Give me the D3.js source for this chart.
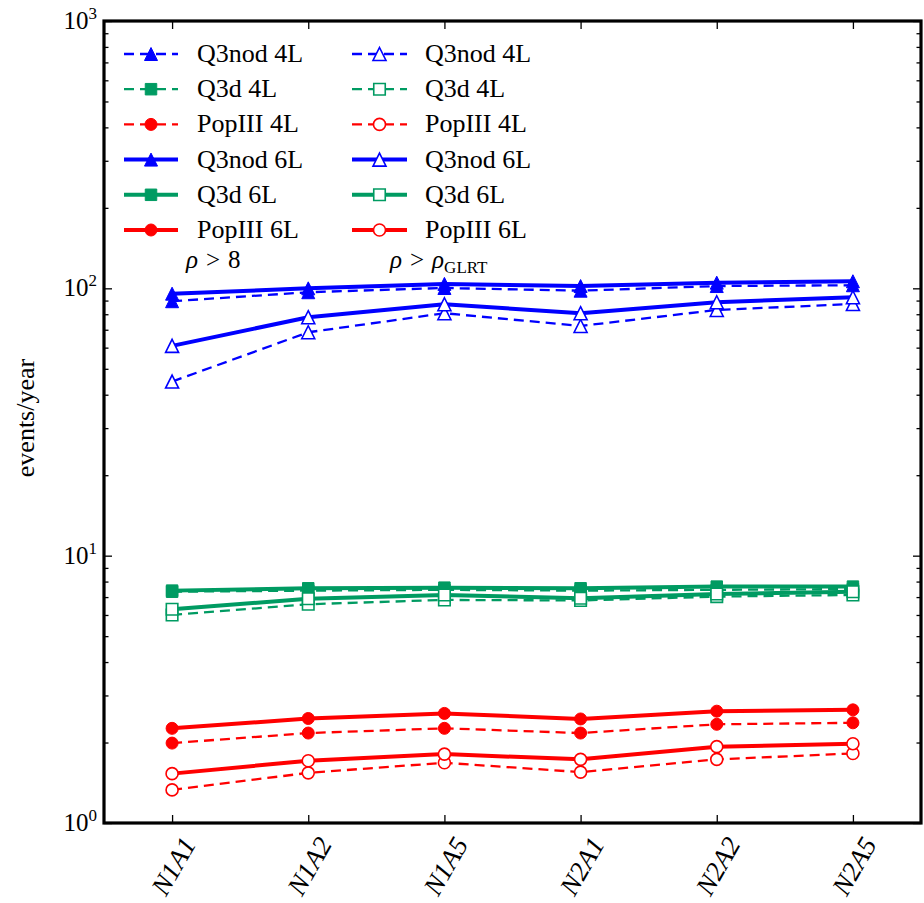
<!DOCTYPE html>
<html>
<head>
<meta charset="utf-8">
<script src="https://cdn.jsdelivr.net/npm/d3@7"></script>
<style>
  html, body { margin: 0; padding: 0; background: #fff; }
  svg text { font-family: "Liberation Serif", "Times New Roman", serif; fill: #000; }
</style>
</head>
<body>
<svg id="chart" width="924" height="903"></svg>
<script>
// Detector configurations along the x axis
const categories = ["N1A1", "N1A2", "N1A5", "N2A1", "N2A2", "N2A5"];

// Detection rates (events/year), threshold rho > 8 (filled markers)
const q3nod4L_rho8 = [89.5, 96.7, 100.3, 98.0, 102.0, 102.7];
const q3d4L_rho8   = [7.33, 7.40, 7.45, 7.40, 7.45, 7.50];
const pop4L_rho8   = [1.99, 2.17, 2.26, 2.17, 2.34, 2.37];
const q3nod6L_rho8 = [95.5, 100.0, 103.9, 102.0, 105.0, 106.3];
const q3d6L_rho8   = [7.40, 7.55, 7.59, 7.55, 7.66, 7.66];
const pop6L_rho8   = [2.26, 2.46, 2.57, 2.45, 2.62, 2.65];

// Detection rates (events/year), threshold rho > rho_GLRT (open markers)
const q3nod4L_glrt = [44.8, 68.5, 80.7, 72.3, 83.0, 87.4];
const q3d4L_glrt   = [6.00, 6.58, 6.83, 6.80, 7.03, 7.13];
const pop4L_glrt   = [1.33, 1.54, 1.68, 1.55, 1.73, 1.82];
const q3nod6L_glrt = [60.9, 78.0, 87.2, 80.7, 88.7, 92.6];
const q3d6L_glrt   = [6.30, 6.90, 7.13, 6.93, 7.19, 7.33];
const pop6L_glrt   = [1.53, 1.71, 1.81, 1.73, 1.93, 1.98];

// Y axis decades
const yMajorTicks = [1, 10, 100, 1000];
const yTickExponents = ["0", "1", "2", "3"];

const BLUE = "#0000ff", GREEN = "#009b62", RED = "#ff0000";

const series = [
  { name: "Q3nod 4L", values: q3nod4L_rho8, color: BLUE,  marker: "tri", dashed: true,  open: false },
  { name: "Q3d 4L",   values: q3d4L_rho8,   color: GREEN, marker: "sq",  dashed: true,  open: false },
  { name: "PopIII 4L",values: pop4L_rho8,   color: RED,   marker: "circ",dashed: true,  open: false },
  { name: "Q3nod 6L", values: q3nod6L_rho8, color: BLUE,  marker: "tri", dashed: false, open: false },
  { name: "Q3d 6L",   values: q3d6L_rho8,   color: GREEN, marker: "sq",  dashed: false, open: false },
  { name: "PopIII 6L",values: pop6L_rho8,   color: RED,   marker: "circ",dashed: false, open: false },
  { name: "Q3nod 4L", values: q3nod4L_glrt, color: BLUE,  marker: "tri", dashed: true,  open: true },
  { name: "Q3d 4L",   values: q3d4L_glrt,   color: GREEN, marker: "sq",  dashed: true,  open: true },
  { name: "PopIII 4L",values: pop4L_glrt,   color: RED,   marker: "circ",dashed: true,  open: true },
  { name: "Q3nod 6L", values: q3nod6L_glrt, color: BLUE,  marker: "tri", dashed: false, open: true },
  { name: "Q3d 6L",   values: q3d6L_glrt,   color: GREEN, marker: "sq",  dashed: false, open: true },
  { name: "PopIII 6L",values: pop6L_glrt,   color: RED,   marker: "circ",dashed: false, open: true }
];

const plot = { left: 104, right: 921, top: 21, bottom: 823 };
const svg = d3.select("#chart");

const x = d3.scalePoint().domain(categories).range([plot.left, plot.right]).padding(0.5);
const y = d3.scaleLog().domain([1, 1000]).range([plot.bottom, plot.top]);

// Minor ticks 2..9 in each decade
const yMinorTicks = [];
for (let d = 0; d < 3; d++) for (let k = 2; k <= 9; k++) yMinorTicks.push(k * Math.pow(10, d));

function markerPath(type) {
  if (type === "tri") {
    const s = 13;
    return `M0,${-s / 2}L${s / 2},${s / 2}L${-s / 2},${s / 2}Z`;
  }
  if (type === "sq") {
    const s = 11.5;
    return `M${-s / 2},${-s / 2}h${s}v${s}h${-s}Z`;
  }
  const r = 6;
  return `M${r},0A${r},${r} 0 1,1 ${-r},0A${r},${r} 0 1,1 ${r},0Z`;
}

function styleMarker(sel, s) {
  sel.attr("d", markerPath(s.marker))
    .attr("fill", s.open ? "#fff" : s.color)
    .attr("stroke", s.color)
    .attr("stroke-width", s.open ? 1.6 : 1);
}

// Axes: ticks point inward on all four sides
const axisG = svg.append("g");
const tickStyle = g => g.call(a => a.select(".domain").remove())
  .selectAll("line").attr("stroke", "#000").attr("stroke-width", 1.3);

axisG.append("g").attr("transform", `translate(${plot.left},0)`)
  .call(d3.axisLeft(y).tickValues(yMajorTicks).tickSize(-8).tickFormat(""))
  .call(tickStyle);
axisG.append("g").attr("transform", `translate(${plot.left},0)`)
  .call(d3.axisLeft(y).tickValues(yMinorTicks).tickSize(-4.5).tickFormat(""))
  .call(tickStyle);
axisG.append("g").attr("transform", `translate(${plot.right},0)`)
  .call(d3.axisRight(y).tickValues(yMajorTicks).tickSize(-8).tickFormat(""))
  .call(tickStyle);
axisG.append("g").attr("transform", `translate(${plot.right},0)`)
  .call(d3.axisRight(y).tickValues(yMinorTicks).tickSize(-4.5).tickFormat(""))
  .call(tickStyle);
axisG.append("g").attr("transform", `translate(0,${plot.bottom})`)
  .call(d3.axisBottom(x).tickSize(-8).tickFormat(""))
  .call(tickStyle);
axisG.append("g").attr("transform", `translate(0,${plot.top})`)
  .call(d3.axisTop(x).tickSize(-8).tickFormat(""))
  .call(tickStyle);

// Y tick labels as 10^n
const yLab = svg.append("g");
yMajorTicks.forEach((v, i) => {
  const t = yLab.append("text")
    .attr("x", 97).attr("y", y(v) + 8)
    .attr("text-anchor", "end")
    .style("font-size", "25px");
  t.append("tspan").text("10");
  t.append("tspan").attr("dy", -10).style("font-size", "17px").text(yTickExponents[i]);
});

// X tick labels, rotated
categories.forEach(c => {
  svg.append("text")
    .attr("transform", `translate(${x(c) + 1},${866}) rotate(-60)`)
    .attr("text-anchor", "middle")
    .attr("dy", "0.35em")
    .style("font-size", "27px")
    .style("font-style", "italic")
    .text(c);
});

// Y axis title
svg.append("text")
  .attr("transform", `translate(25,418) rotate(-90)`)
  .attr("text-anchor", "middle")
  .attr("dy", "0.35em")
  .style("font-size", "26px")
  .text("events/year");

// Data lines and markers
const line = d3.line().x((d, i) => x(categories[i])).y(d => y(d));
const dataG = svg.append("g");
series.forEach(s => {
  dataG.append("path")
    .attr("d", line(s.values))
    .attr("fill", "none")
    .attr("stroke", s.color)
    .attr("stroke-width", s.dashed ? 2.3 : 4)
    .attr("stroke-dasharray", s.dashed ? "10,6" : null)
    .attr("stroke-linejoin", "round");
  dataG.selectAll(null).data(s.values).enter().append("path")
    .attr("transform", (d, i) => `translate(${x(categories[i])},${y(d)})`)
    .call(sel => styleMarker(sel, s));
});

// Frame
svg.append("rect")
  .attr("x", plot.left).attr("y", plot.top)
  .attr("width", plot.right - plot.left).attr("height", plot.bottom - plot.top)
  .attr("fill", "none").attr("stroke", "#000").attr("stroke-width", 3.2);

// Legend: two columns (filled markers, open markers)
const legend = svg.append("g");
const rowY0 = 54, rowStep = 35.2;
const cols = [
  { lineX0: 124, lineX1: 178, textX: 197 },
  { lineX0: 352, lineX1: 407, textX: 425 }
];
series.forEach((s, idx) => {
  const col = cols[s.open ? 1 : 0];
  const row = idx % 6;
  const ly = rowY0 + row * rowStep;
  const mx = (col.lineX0 + col.lineX1) / 2;
  legend.append("line")
    .attr("x1", col.lineX0).attr("x2", col.lineX1)
    .attr("y1", ly).attr("y2", ly)
    .attr("stroke", s.color)
    .attr("stroke-width", s.dashed ? 2.3 : 4)
    .attr("stroke-dasharray", s.dashed ? "10,6" : null)
    .attr("stroke-dashoffset", s.dashed ? 0 : null);
  legend.append("path")
    .attr("transform", `translate(${mx},${ly})`)
    .call(sel => styleMarker(sel, s));
  legend.append("text")
    .attr("x", col.textX).attr("y", ly + 8)
    .style("font-size", "26px")
    .text(s.name);
});

// Threshold annotations
const a1 = svg.append("text").attr("x", 186).attr("y", 268).style("font-size", "25px");
a1.append("tspan").style("font-style", "italic").text("ρ");
a1.append("tspan").attr("dx", 8).text(">");
a1.append("tspan").attr("dx", 8).text("8");

const a2 = svg.append("text").attr("x", 390).attr("y", 268).style("font-size", "25px");
a2.append("tspan").style("font-style", "italic").text("ρ");
a2.append("tspan").attr("dx", 8).text(">");
a2.append("tspan").attr("dx", 8).style("font-style", "italic").text("ρ");
a2.append("tspan").attr("dy", 5).style("font-size", "17px").text("GLRT");
</script>
</body>
</html>
